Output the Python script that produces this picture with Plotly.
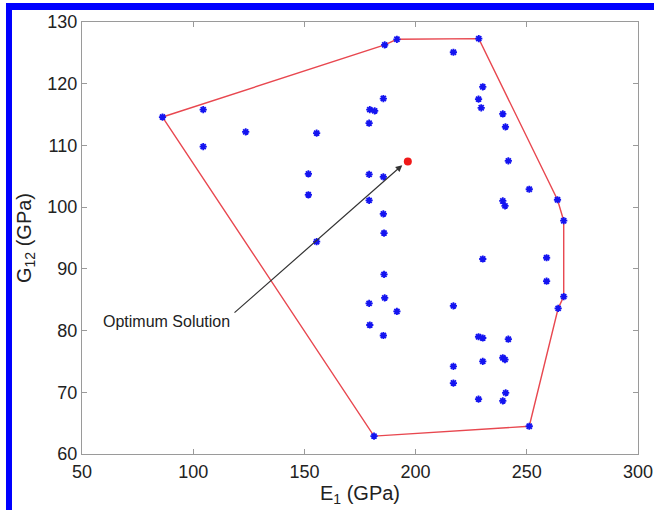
import plotly.graph_objects as go

# Design points (E1, G12) in GPa
e1_points = [86.2, 104.5, 104.5, 123.6, 155.5, 151.8, 151.8, 155.5, 186.1, 191.6,
             228.4, 217.0, 230.2, 228.3, 229.5, 239.2, 240.4, 241.7, 251.1, 263.8,
             185.5, 179.4, 181.6, 179.1, 179.1, 185.5, 179.1, 185.5, 185.8, 185.8,
             186.1, 179.1, 191.6, 179.4, 185.5, 217.0, 228.3, 230.2, 241.7, 230.2,
             239.2, 240.2, 217.0, 217.0, 228.3, 240.5, 239.2, 251.1, 181.3, 239.2,
             240.2, 230.2, 258.9, 258.9, 266.6, 266.6, 264.1]
g12_points = [114.6, 115.8, 109.8, 112.2, 112.0, 105.4, 102.0, 94.4, 126.3, 127.2,
              127.3, 125.1, 119.5, 117.5, 116.1, 115.1, 113.0, 107.5, 102.9, 101.2,
              117.6, 115.8, 115.6, 113.6, 105.3, 104.9, 101.1, 98.9, 95.8, 89.1,
              85.3, 84.4, 83.1, 80.9, 79.2, 84.0, 79.0, 78.8, 78.6, 75.0,
              75.6, 75.3, 74.2, 71.5, 68.9, 69.9, 68.6, 64.5, 62.9, 101.0,
              100.2, 91.6, 91.8, 88.0, 97.8, 85.5, 83.6]

# Convex hull
hull_e1 = [86.2, 186.1, 191.6, 228.4, 263.8, 266.6, 266.6, 264.1, 251.1, 181.3, 86.2]
hull_g12 = [114.6, 126.3, 127.2, 127.3, 101.2, 97.8, 85.5, 83.6, 64.5, 62.9, 114.6]

# Optimum solution
opt_e1 = [196.5]
opt_g12 = [107.4]

# Annotation
label_text = "Optimum Solution"
label_pos = (88.1, 81.5)
arrow_tail = (117.9, 82.7)
arrow_head = (194.0, 106.8)

x_ticks = [50, 100, 150, 200, 250, 300]
y_ticks = [60, 70, 80, 90, 100, 110, 120, 130]

FONT = "Liberation Sans, Arial, Helvetica, sans-serif"
TXT = "#222222"

fig = go.Figure()
fig.add_trace(go.Scatter(x=hull_e1, y=hull_g12, mode="lines",
                         line=dict(color="#e8474f", width=1.4),
                         hoverinfo="skip", showlegend=False))
fig.add_trace(go.Scatter(x=e1_points, y=g12_points, mode="markers",
                         marker=dict(symbol="asterisk-open", size=6, color="#1414f0",
                                     line=dict(color="#1414f0", width=1.8)),
                         showlegend=False))
fig.add_trace(go.Scatter(x=opt_e1, y=opt_g12, mode="markers",
                         marker=dict(symbol="circle", size=8, color="#f01818",
                                     line=dict(width=0)),
                         showlegend=False))

fig.add_annotation(x=arrow_head[0], y=arrow_head[1], ax=arrow_tail[0], ay=arrow_tail[1],
                   xref="x", yref="y", axref="x", ayref="y", text="",
                   showarrow=True, arrowhead=2, arrowsize=1.1, arrowwidth=1.2,
                   arrowcolor="#333333", standoff=0, startstandoff=0)
fig.add_annotation(x=label_pos[0], y=label_pos[1], xref="x", yref="y",
                   text=label_text, showarrow=False,
                   font=dict(family=FONT, size=16, color=TXT))

axis_common = dict(showgrid=False, zeroline=False, showline=True, linecolor="#9a9a9a",
                   linewidth=1.2, mirror="ticks", ticks="inside", ticklen=5,
                   tickcolor="#9a9a9a", tickwidth=1, automargin=False,
                   ticklabeloverflow="allow",
                   tickfont=dict(family=FONT, size=18, color=TXT))

fig.update_xaxes(range=[50, 300], tickvals=x_ticks, ticktext=[str(v) for v in x_ticks],
                 ticklabelstandoff=1,
                 title=dict(text="E<sub>1</sub> (GPa)", standoff=5,
                            font=dict(family=FONT, size=20, color=TXT)),
                 **axis_common)
fig.update_yaxes(range=[60, 130], tickvals=y_ticks, ticktext=[str(v) for v in y_ticks],
                 title=dict(text="G<sub>12</sub> (GPa)", standoff=10,
                            font=dict(family=FONT, size=20, color=TXT)),
                 **axis_common)

# Blue frame (top and left bands)
fig.add_shape(type="rect", xref="paper", yref="paper",
              x0=-0.1367, x1=1.04, y0=1.0278, y1=1.044,
              fillcolor="#0000ff", line=dict(width=0), layer="above")
fig.add_shape(type="rect", xref="paper", yref="paper",
              x0=-0.1367, x1=-0.1259, y0=-0.14, y1=1.044,
              fillcolor="#0000ff", line=dict(width=0), layer="above")

fig.update_layout(width=654, height=510, margin=dict(l=82, r=16, t=22, b=56),
                  paper_bgcolor="white", plot_bgcolor="white",
                  font=dict(family=FONT))

fig.write_html("out.html", config={"displayModeBar": False},
               post_script="document.body.style.margin='0';document.body.style.overflow='hidden';")
